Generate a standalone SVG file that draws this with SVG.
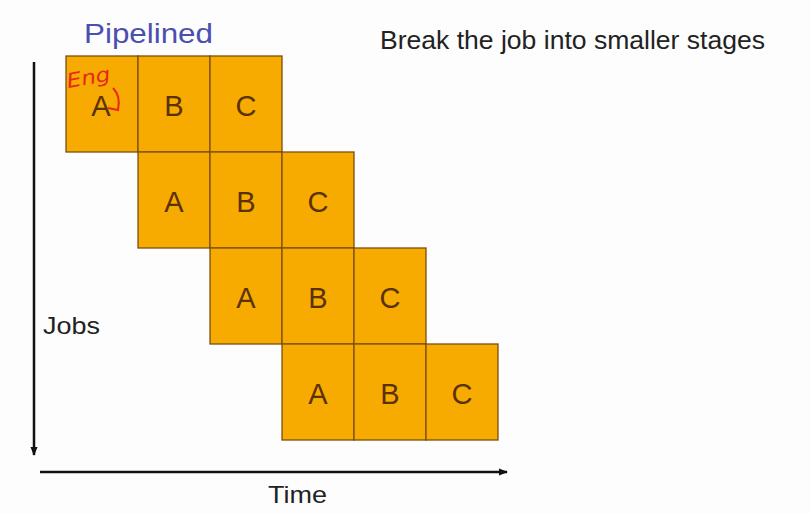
<svg xmlns="http://www.w3.org/2000/svg" width="811" height="514" viewBox="0 0 811 514">
<defs>
<style>
.cell{fill:#f7ab00;stroke:#7d4f10;stroke-width:1.3}
.lt{font-family:"Liberation Sans",Arial,sans-serif;font-size:29px;fill:#5a3208;text-anchor:middle}
.lbl{font-family:"Liberation Sans",Arial,sans-serif;fill:#222}
</style>
<marker id="ah" markerWidth="10" markerHeight="10" refX="8" refY="5" orient="auto" markerUnits="userSpaceOnUse">
<path d="M0,1.5 L9,5 L0,8.5 Z" fill="#111"/>
</marker>
</defs>
<rect width="811" height="514" fill="#fdfdfd"/>
<text x="84" y="43" font-family="Liberation Sans,Arial,sans-serif" font-size="28" fill="#4b4fb0" textLength="129" lengthAdjust="spacingAndGlyphs">Pipelined</text>
<text x="380" y="49" class="lbl" font-size="25" textLength="385" lengthAdjust="spacingAndGlyphs">Break the job into smaller stages</text>
<g id="connectors">
<line x1="34" y1="62" x2="34" y2="455" stroke="#111" stroke-width="2.5" marker-end="url(#ah)"/>
<line x1="40" y1="472" x2="507" y2="472" stroke="#111" stroke-width="2.5" marker-end="url(#ah)"/>
</g>
<text x="43" y="334" class="lbl" font-size="24" textLength="57" lengthAdjust="spacingAndGlyphs">Jobs</text>
<text x="268" y="503" class="lbl" font-size="24" textLength="59" lengthAdjust="spacingAndGlyphs">Time</text>
<g id="job1">
<rect class="cell" x="66" y="56" width="72" height="96"/>
<rect class="cell" x="138" y="56" width="72" height="96"/>
<rect class="cell" x="210" y="56" width="72" height="96"/>
<text class="lt" x="101" y="116">A</text>
<text class="lt" x="174" y="116">B</text>
<text class="lt" x="246" y="116">C</text>
<text x="68" y="88" font-family="DejaVu Sans,sans-serif" font-style="italic" font-size="20" fill="#e8281c" transform="rotate(-10 68 88)" textLength="44" lengthAdjust="spacingAndGlyphs">Eng</text>
<path d="M113,88 Q121,96 118,110 L108,108" fill="none" stroke="#e8281c" stroke-width="2"/>
</g>
<g id="job2">
<rect class="cell" x="138" y="152" width="72" height="96"/>
<rect class="cell" x="210" y="152" width="72" height="96"/>
<rect class="cell" x="282" y="152" width="72" height="96"/>
<text class="lt" x="174" y="212">A</text>
<text class="lt" x="246" y="212">B</text>
<text class="lt" x="318" y="212">C</text>
</g>
<g id="job3">
<rect class="cell" x="210" y="248" width="72" height="96"/>
<rect class="cell" x="282" y="248" width="72" height="96"/>
<rect class="cell" x="354" y="248" width="72" height="96"/>
<text class="lt" x="246" y="308">A</text>
<text class="lt" x="318" y="308">B</text>
<text class="lt" x="390" y="308">C</text>
</g>
<g id="job4">
<rect class="cell" x="282" y="344" width="72" height="96"/>
<rect class="cell" x="354" y="344" width="72" height="96"/>
<rect class="cell" x="426" y="344" width="72" height="96"/>
<text class="lt" x="318" y="404">A</text>
<text class="lt" x="390" y="404">B</text>
<text class="lt" x="462" y="404">C</text>
</g>
</svg>
